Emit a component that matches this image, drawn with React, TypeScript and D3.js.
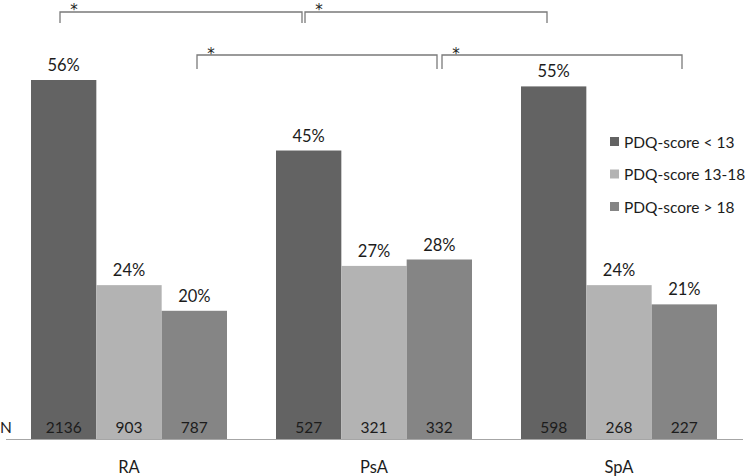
import { FC } from 'react';
import * as d3 from 'd3';

const categories = ['RA', 'PsA', 'SpA'];
const seriesNames = ['PDQ-score < 13', 'PDQ-score 13-18', 'PDQ-score > 18'];
const percentages = [
  [56, 24, 20],
  [45, 27, 28],
  [55, 24, 21],
];
const counts = [
  [2136, 903, 787],
  [527, 321, 332],
  [598, 268, 227],
];
// significance brackets between groups: [from, to, level]
const brackets: [string, string, number][] = [
  ['RA', 'PsA', 0],
  ['PsA', 'SpA', 0],
  ['RA', 'PsA', 1],
  ['PsA', 'SpA', 1],
];

const colors = ['#636363', '#b3b3b3', '#858585'];
const font = 'Lato, "Open Sans", sans-serif';
const textColor = '#1c1c1c';

const App: FC = () => {
  const width = 745;
  const height = 476;
  const baseline = 439;

  const x0 = d3.scaleBand<string>().domain(categories).range([6.5, 741.5]).paddingInner(0.2).paddingOuter(0.1);
  const x1 = d3.scaleBand<number>().domain([0, 1, 2]).range([0, x0.bandwidth()]);
  const y = d3.scaleLinear().domain([0, 56]).range([baseline, 80]);

  const center = (c: string) => (x0(c) as number) + x0.bandwidth() / 2;

  return (
    <svg width={width} height={height} style={{ position: 'absolute', left: 0, top: 0 }} fontFamily={font}>
      {/* brackets */}
      {brackets.map(([a, b, level], i) => {
        const xa = level === 0 ? center(a) - 69 : center(a) + 68;
        const xb = level === 0 ? center(b) - 72 : center(b) + 63;
        const yTop = level === 0 ? 12 : 55;
        const drop = level === 0 ? 11 : 14;
        return (
          <g key={i}>
            <path
              d={`M${xa},${yTop + drop}V${yTop}H${xb}V${yTop + drop}`}
              fill="none"
              stroke="#7a7a7a"
              strokeWidth={1.3}
            />
            <text
              x={xa + 14}
              y={yTop + (level === 0 ? 2.5 : 4)}
              fontSize={15}
              fontFamily='"DejaVu Sans", sans-serif'
              textAnchor="middle"
              fill={textColor}
            >
              *
            </text>
          </g>
        );
      })}

      {/* bars */}
      {categories.map((c, gi) => (
        <g key={c} transform={`translate(${x0(c)},0)`}>
          {percentages[gi].map((v, si) => {
            const bx = x1(si) as number;
            const bw = x1.bandwidth();
            return (
              <g key={si}>
                <rect x={bx} y={y(v)} width={bw} height={baseline - y(v)} fill={colors[si]} />
                <text
                  x={bx + bw / 2}
                  y={y(v) - 9}
                  textAnchor="middle"
                  fontSize={16.5}
                  fill={textColor}
                >
                  {v}%
                </text>
                <text
                  x={bx + bw / 2}
                  y={baseline - 6}
                  textAnchor="middle"
                  fontSize={15.5}
                  fill={textColor}
                >
                  {counts[gi][si]}
                </text>
              </g>
            );
          })}
        </g>
      ))}

      {/* axis */}
      <line x1={6} x2={743} y1={baseline + 0.5} y2={baseline + 0.5} stroke="#a6a6a6" strokeWidth={1} />
      <text x={0} y={baseline - 6} fontSize={15.5} fill={textColor}>
        N
      </text>
      {categories.map(c => (
        <text key={c} x={center(c)} y={473} textAnchor="middle" fontSize={16.5} fill={textColor}>
          {c}
        </text>
      ))}

      {/* legend */}
      {seriesNames.map((s, i) => (
        <g key={s} transform={`translate(610,${142 + i * 32.5})`}>
          <rect x={0} y={-5} width={9} height={9} fill={colors[i]} />
          <text x={14} y={5.5} fontSize={15.5} fill={textColor}>
            {s}
          </text>
        </g>
      ))}
    </svg>
  );
};

export default App;
